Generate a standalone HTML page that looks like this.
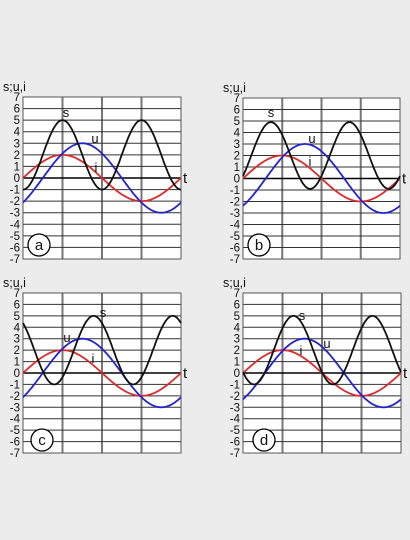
<!DOCTYPE html>
<html><head><meta charset="utf-8"><style>
html,body{margin:0;padding:0;background:#ececec;}
svg{display:block;font-family:"Liberation Sans",sans-serif;}
</style></head><body>
<svg id="c" width="410" height="540" viewBox="0 0 410 540"></svg>
<script>
// Data
const yTicks = [7,6,5,4,3,2,1,0,-1,-2,-3,-4,-5,-6,-7];
const panelIds = ['a','b','c','d'];
// amplitudes (peak values) for i, u; s offset & amplitude
const iAmp = [2,2,2,2];
const uAmp = [3,3,3,3];
const uPhaseDeg = [45,52,45,50];
const sOffset = [2,2,2,2];
const sAmp = [3,2.9,3,3];
const sPhaseDeg = [180,128,322,230];
// layout
const boxes = [
 {x0:23,x1:181,yTop:97,yBot:259,cx:39,cy:245, sl:[66,113], ul:[95,139], il:[96,168]},
 {x0:243,x1:400,yTop:98,yBot:259,cx:259,cy:245, sl:[271,113], ul:[312,139], il:[310,162]},
 {x0:23,x1:181,yTop:293,yBot:453,cx:42,cy:440, sl:[103,313], ul:[67,338], il:[93,359]},
 {x0:243,x1:401,yTop:293,yBot:453,cx:264,cy:440, sl:[302,316], ul:[327,344], il:[301,351]}
];
const NS='http://www.w3.org/2000/svg';
const svg=document.getElementById('c');
function mk(t,a,p){const e=document.createElementNS(NS,t);for(const k in a)e.setAttribute(k,a[k]);(p||svg).appendChild(e);return e;}
panelIds.forEach((id,k)=>{
 const b=boxes[k];
 const g=mk('g',{});
 
 
 const X=th=>b.x0+(b.x1-b.x0)*th/360;
 const Y=v=>b.yTop+(b.yBot-b.yTop)*(7-v)/14;
 const bg=mk('rect',{x:b.x0,y:b.yTop,width:b.x1-b.x0,height:b.yBot-b.yTop,fill:'#fff'},g);
 
 
 [90,180,270].forEach(th=>{
  const l=mk('line',{x1:X(th),x2:X(th),y1:b.yTop,y2:b.yBot,stroke:'#777','stroke-width':2},g);
  
  
 });
 yTicks.forEach(v=>{
  const l=mk('line',{x1:b.x0,x2:b.x1,y1:Y(v),y2:Y(v),stroke:v===0?'#000':'#333','stroke-width':v===0?1.6:1},g);
  
  
  const t=mk('text',{x:b.x0-3,y:Y(v)+4,'text-anchor':'end','font-size':11.5,fill:'#111'},g);
  t.textContent=String(v).replace('-','-');
  
  
 });
 mk('rect',{x:b.x0,y:b.yTop,width:b.x1-b.x0,height:b.yBot-b.yTop,fill:'none',stroke:'#555','stroke-width':1},g);
 const series=[
  {n:'i',c:'#dd2a2a',f:th=>iAmp[k]*Math.sin(th*Math.PI/180)},
  {n:'u',c:'#2323cc',f:th=>uAmp[k]*Math.sin((th-uPhaseDeg[k])*Math.PI/180)},
  {n:'s',c:'#111',f:th=>sOffset[k]+sAmp[k]*Math.cos((2*th-sPhaseDeg[k])*Math.PI/180)}
 ];
 series.forEach(s=>{
  let d='';
  for(let th=0;th<=360;th+=2){d+=(th?'L':'M')+X(th).toFixed(1)+','+Y(s.f(th)).toFixed(1);}
  const p=mk('path',{d:d,fill:'none',stroke:s.c,'stroke-width':1.8},g);
  
  
 });
 [['s',b.sl],['u',b.ul],['i',b.il]].forEach(([n,pos])=>{
  const t=mk('text',{x:pos[0],y:pos[1]+4,'font-size':13,'text-anchor':'middle',fill:'#111'},g);
  t.textContent=n;
  
  
 });
 const yt=mk('text',{x:b.x0-20,y:b.yTop-6,'font-size':12.5,fill:'#111'},g);
 yt.textContent='s;u,i';
 
 
 const xt=mk('text',{x:b.x1+2,y:Y(0)+5,'font-size':15,fill:'#111'},g);
 xt.textContent='t';
 
 
 const cc=mk('circle',{cx:b.cx,cy:b.cy,r:11,fill:'#fff',stroke:'#000','stroke-width':1.3},g);
 
 
 const ct=mk('text',{x:b.cx,y:b.cy+5,'font-size':15,'text-anchor':'middle',fill:'#111'},g);
 ct.textContent=id;
 
 
});
</script>
</body></html>
